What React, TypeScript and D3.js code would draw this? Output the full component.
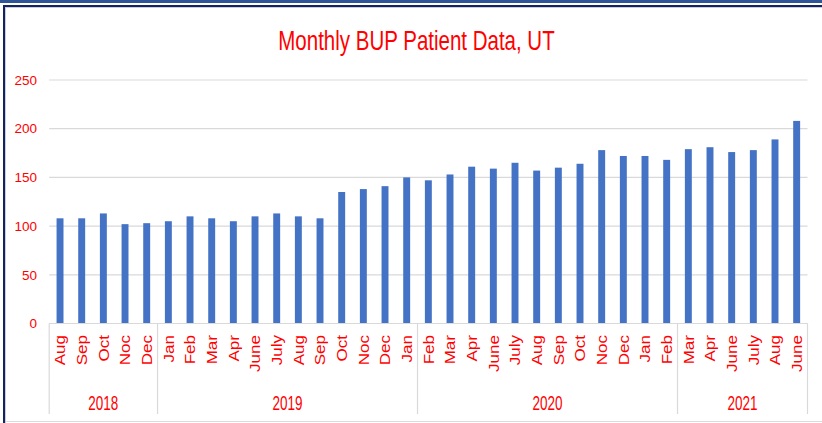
import React from "react";
import * as d3 from "d3";

const months = [
  "Aug", "Sep", "Oct", "Noc", "Dec",
  "Jan", "Feb", "Mar", "Apr", "June", "July", "Aug", "Sep", "Oct", "Noc", "Dec", "Jan",
  "Feb", "Mar", "Apr", "June", "July", "Aug", "Sep", "Oct", "Noc", "Dec", "Jan", "Feb",
  "Mar", "Apr", "June", "July", "Aug", "June",
];
const values = [
  108, 108, 113, 102, 103,
  105, 110, 108, 105, 110, 113, 110, 108, 135, 138, 141, 150,
  147, 153, 161, 159, 165, 157, 160, 164, 178, 172, 172, 168,
  179, 181, 176, 178, 189, 208,
];
const yearLabels = ["2018", "2019", "2020", "2021"];
const yearCounts = [5, 12, 12, 6];
const yTicks = [0, 50, 100, 150, 200, 250];
const title = "Monthly BUP Patient Data, UT";

const W = 822;
const H = 423;
const FONT = "'Liberation Sans', Arial, sans-serif";
const RED = "#FF0000";
const GRID = "#D9D9D9";

export default function App() {
  const left = 49.2;
  const right = 807.5;
  const x = d3
    .scaleBand<number>()
    .domain(d3.range(months.length))
    .range([left, right])
    .paddingInner(0.68)
    .paddingOuter(0.34);
  const y = d3.scaleLinear().domain([0, 250]).range([323.5, 80]);
  const step = x.step();
  const axisY = y(0);

  let acc = 0;
  const groups = yearCounts.map((c, i) => {
    const start = acc;
    acc += c;
    return { label: yearLabels[i], start, end: acc };
  });
  const boundaryX = (idx: number) => left + idx * step;

  return (
    <svg
      width={W}
      height={H}
      style={{ position: "absolute", left: 0, top: 0, background: "#fff" }}
      fontFamily={FONT}
    >
      <rect x={0} y={0} width={W} height={H} fill="#fff" />
      {/* frame */}
      <rect x={0} y={0} width={W} height={3} fill="#2F5597" />
      <rect x={3} y={5} width={W - 3} height={2} fill="#13235F" />
      <rect x={5} y={7} width={W - 5} height={1} fill="#C9CEDA" />
      <rect x={3} y={5} width={2} height={H - 5} fill="#13235F" />
      <rect x={5} y={7} width={1} height={H - 7} fill="#C9CEDA" />
      <rect x={6} y={421} width={W - 6} height={1} fill="#DCDCDC" />

      {/* title */}
      <text
        transform={`translate(416.5,50) scale(1,1.35)`}
        textAnchor="middle"
        fontSize={20.5}
        fill={RED}
      >
        {title}
      </text>

      {/* gridlines and y labels */}
      {yTicks.map((t) => (
        <g key={t}>
          <line
            x1={left}
            x2={right}
            y1={y(t)}
            y2={y(t)}
            stroke={GRID}
            strokeWidth={1.2}
          />
          <text
            x={37}
            y={y(t)}
            dy="0.35em"
            textAnchor="end"
            fontSize={13.5}
            fill={RED}
          >
            {t}
          </text>
        </g>
      ))}

      {/* bars */}
      {values.map((v, i) => (
        <rect
          key={i}
          x={x(i)}
          y={y(v)}
          width={x.bandwidth()}
          height={axisY - y(v)}
          fill="#4472C4"
        />
      ))}

      {/* category axis */}
      <line x1={left} x2={right} y1={axisY} y2={axisY} stroke={GRID} strokeWidth={1.2} />
      {[0, ...groups.map((g) => g.end)].map((idx, k) => (
        <line
          key={k}
          x1={boundaryX(idx)}
          x2={boundaryX(idx)}
          y1={axisY}
          y2={414}
          stroke={GRID}
          strokeWidth={1.2}
        />
      ))}
      {months.map((m, i) => {
        const cx = (x(i) as number) + x.bandwidth() / 2;
        return (
          <text
            key={i}
            transform={`translate(${cx},335) rotate(-90) scale(1.1,1)`}
            textAnchor="end"
            dy="0.35em"
            fontSize={15.5}
            fill={RED}
          >
            {m}
          </text>
        );
      })}
      {groups.map((g) => (
        <text
          key={g.label}
          transform={`translate(${(boundaryX(g.start) + boundaryX(g.end)) / 2},410) scale(1,1.45)`}
          textAnchor="middle"
          fontSize={13.5}
          fill={RED}
        >
          {g.label}
        </text>
      ))}
    </svg>
  );
}
